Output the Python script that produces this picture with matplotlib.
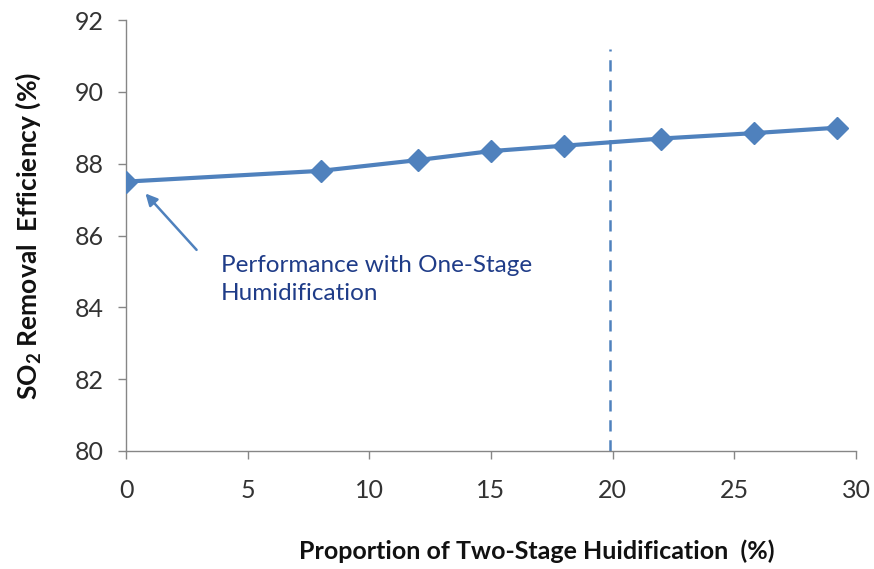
import numpy as np
import matplotlib.pyplot as plt

plt.rcParams['font.family'] = ['Lato', 'DejaVu Sans']
plt.rcParams['mathtext.fontset'] = 'custom'
plt.rcParams['mathtext.bf'] = 'Lato:bold'
plt.rcParams['mathtext.rm'] = 'Lato'

# proportion of two-stage humidification (%) vs SO2 removal efficiency (%)
proportion = [0, 8, 12, 15, 18, 22, 25.8, 29.2]
efficiency = [87.5, 87.8, 88.1, 88.35, 88.5, 88.7, 88.85, 89.0]

xticks = [0, 5, 10, 15, 20, 25, 30]
yticks = [80, 82, 84, 86, 88, 90, 92]
design_point = 19.9

blue = '#4F81BD'
grey = '#868686'

fig = plt.figure(figsize=(8.74, 5.69), dpi=100)
ax = fig.add_axes([126 / 874, 1 - 451 / 569, (856 - 126) / 874, (451 - 20) / 569])

ax.plot(proportion, efficiency, color=blue, lw=3, marker='D', ms=11.5,
        markeredgecolor=blue, markerfacecolor=blue, zorder=3)

ax.plot([design_point, design_point], [80, 91.2], color=blue, lw=1.8,
        ls=(0, (4.5, 3.5)), zorder=2)

ax.annotate('', xy=(0.8, 87.17), xytext=(2.9, 85.6),
            arrowprops=dict(arrowstyle='-|>,head_length=0.7,head_width=0.35',
                            color=blue, lw=1.8, shrinkA=0, shrinkB=0))
ax.text(3.9, 85.45, 'Performance with One-Stage\nHumidification', color='#1F3C88',
        fontsize=17.5, ha='left', va='top', linespacing=1.38)

ax.set_xlim(0, 30)
ax.set_ylim(80, 92)
ax.set_xticks(xticks)
ax.set_yticks(yticks)

for side in ('top', 'right'):
    ax.spines[side].set_visible(False)
for side in ('left', 'bottom'):
    ax.spines[side].set_color(grey)
    ax.spines[side].set_linewidth(1)
ax.tick_params(axis='both', direction='out', length=6, width=1, color=grey,
               labelsize=18, labelcolor='#333333')
ax.tick_params(axis='x', pad=14)
ax.tick_params(axis='y', pad=10)

ax.set_xlabel('Proportion of Two-Stage Huidification  (%)', fontsize=18,
              fontweight='bold', color='#111111')
ax.set_ylabel(r'$\mathbf{SO_2}$ Removal  Efficiency (%)', fontsize=19,
              fontweight='bold', color='#111111')
ax.xaxis.set_label_coords((537 - 126) / 730, 1 - (551 - 20) / 431, transform=ax.transAxes)
ax.yaxis.set_label_coords((28 - 126) / 730, 1 - (236 - 20) / 431, transform=ax.transAxes)
ax.xaxis.label.set_va('center')
ax.yaxis.label.set_va('center')

fig.savefig('out.png', dpi=100)
